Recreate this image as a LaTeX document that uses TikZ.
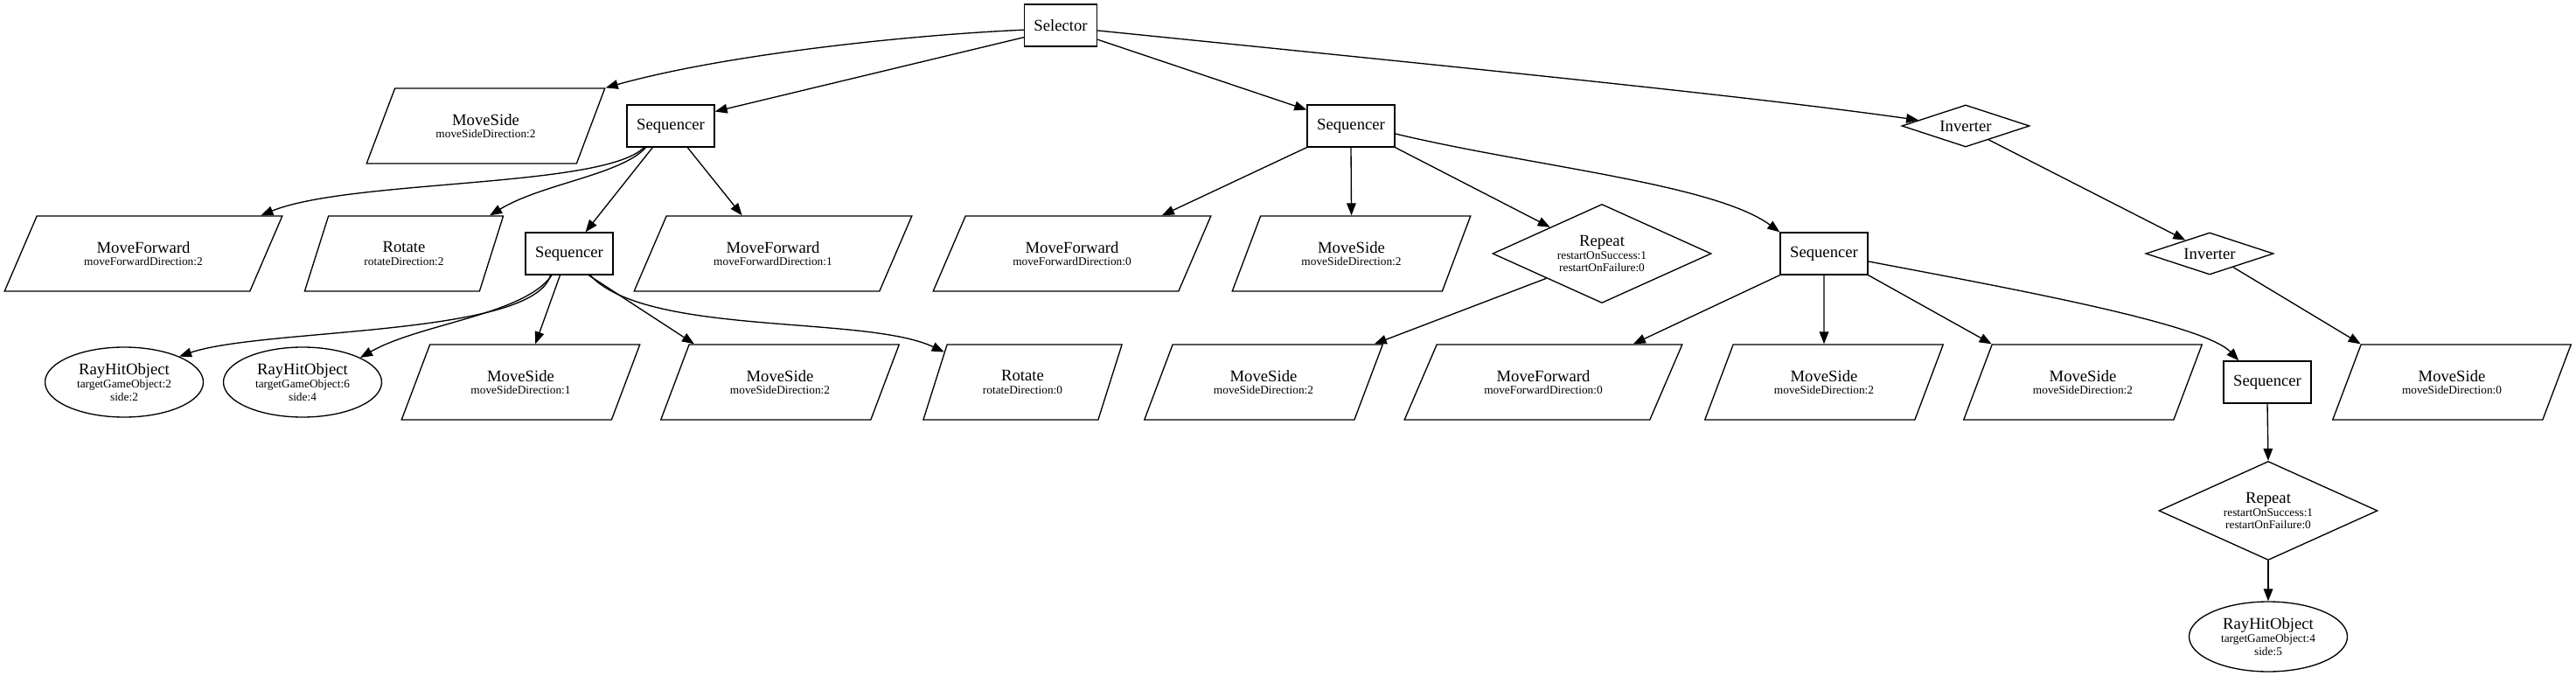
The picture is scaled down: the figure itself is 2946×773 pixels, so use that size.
\documentclass[tikz,border=0pt]{standalone}
\usepackage{fontspec}
\setmainfont{Liberation Serif}
\usetikzlibrary{shapes.geometric,arrows.meta}
\newcommand{\twol}[2]{#1\\{\fontsize{10}{10}\selectfont #2}}
\newcommand{\threel}[3]{#1\\{\fontsize{10}{10}\selectfont #2}\\{\fontsize{10}{10}\selectfont #3}}
\begin{document}
\begin{tikzpicture}[x=0.75pt,y=-0.75pt,
  every node/.style={font=\fontsize{14}{11}\selectfont, align=center, line width=1pt, inner sep=0pt},
  box/.style={draw, rectangle, minimum width=75pt, minimum height=36pt},
  selbox/.style={box, minimum width=62.25pt},
  parS/.style={draw, trapezium, trapezium left angle=57.4, trapezium right angle=122.6, trapezium stretches=true, minimum width=204.75pt, minimum height=64.5pt},
  parL/.style={draw, trapezium, trapezium left angle=53.5, trapezium right angle=126.5, trapezium stretches=true, minimum width=238.5pt, minimum height=64.5pt},
  parR/.style={draw, trapezium, trapezium left angle=62.1, trapezium right angle=117.9, trapezium stretches=true, minimum width=171pt, minimum height=64.5pt},
  rep/.style={draw, diamond, minimum width=187.5pt, minimum height=84.75pt, aspect=2.2},
  inv/.style={draw, diamond, minimum width=109.5pt, minimum height=36pt, aspect=3},
  rho/.style={draw, ellipse, minimum width=135.75pt, minimum height=60pt},
  conn/.style={draw, line width=1pt, -{Triangle[length=10.5pt,width=8pt]}}
]
\useasboundingbox (0,0) rectangle (2946,773);
\node[selbox] (sel) at (1213,29) {Selector};
\node[parS] (ms1) at (555.5,144) {\twol{MoveSide}{moveSideDirection:2}};
\node[box] (seq1) at (767,144) {Sequencer};
\node[box] (seq2) at (1545,144) {Sequencer};
\node[inv] (inv1) at (2248,144) {Inverter};
\node[parL] (mf2) at (164,290) {\twol{MoveForward}{moveForwardDirection:2}};
\node[parR] (rot2) at (462,290) {\twol{Rotate}{rotateDirection:2}};
\node[box] (seq3) at (651,290) {Sequencer};
\node[parL] (mf1) at (884,290) {\twol{MoveForward}{moveForwardDirection:1}};
\node[parL] (mf0) at (1226,290) {\twol{MoveForward}{moveForwardDirection:0}};
\node[parS] (ms2) at (1545.5,290) {\twol{MoveSide}{moveSideDirection:2}};
\node[rep] (rep1) at (1832,290) {\threel{Repeat}{restartOnSuccess:1}{restartOnFailure:0}};
\node[box] (seq4) at (2086,290) {Sequencer};
\node[inv] (inv2) at (2527,290) {Inverter};
\node[rho] (rh1) at (142,437) {\threel{RayHitObject}{targetGameObject:2}{side:2}};
\node[rho] (rh2) at (346,437) {\threel{RayHitObject}{targetGameObject:6}{side:4}};
\node[parS] (ms31) at (595.5,437) {\twol{MoveSide}{moveSideDirection:1}};
\node[parS] (ms32) at (892,437) {\twol{MoveSide}{moveSideDirection:2}};
\node[parR] (rot0) at (1169.5,437) {\twol{Rotate}{rotateDirection:0}};
\node[parS] (ms33) at (1445,437) {\twol{MoveSide}{moveSideDirection:2}};
\node[parL] (mf03) at (1765,437) {\twol{MoveForward}{moveForwardDirection:0}};
\node[parS] (ms34) at (2086,437) {\twol{MoveSide}{moveSideDirection:2}};
\node[parS] (ms35) at (2382,437) {\twol{MoveSide}{moveSideDirection:2}};
\node[box] (seq5) at (2593,437) {Sequencer};
\node[parS] (ms36) at (2804,437) {\twol{MoveSide}{moveSideDirection:0}};
\node[rep] (rep2) at (2594,584) {\threel{Repeat}{restartOnSuccess:1}{restartOnFailure:0}};
\node[rho] (rh3) at (2594,728) {\threel{RayHitObject}{targetGameObject:4}{side:5}};

\draw[conn] (sel.187) .. controls (1040,40) and (830,62) .. (ms1.top right corner);
\draw[conn] (sel.198) -- (seq1.18);
\draw[conn] (sel.339) -- (seq2.160);
\draw[conn] (sel.352) .. controls (1700,80) and (2000,110) .. (inv1.173);
\draw[conn] (seq1.219) .. controls (690,215) and (400,205) .. (mf2.18);
\draw[conn] (seq1.221) .. controls (710,200) and (620,210) .. (rot2.24);
\draw[conn] (seq1.230) -- (seq3.53);
\draw[conn] (seq1.308) -- (mf1.129);
\draw[conn] (seq3.229) .. controls (610,385) and (300,375) .. (rh1.25);
\draw[conn] (seq3.231) .. controls (600,360) and (480,370) .. (rh2.23);
\draw[conn] (seq3.247) -- (ms31.69);
\draw[conn] (seq3.312) -- (ms32.156);
\draw[conn] (seq3.314) .. controls (740,385) and (990,360) .. (rot0.159);
\draw[conn] (seq2.south west) -- (mf0.23);
\draw[conn] (seq2.south) -- (ms2.north);
\draw[conn] (seq2.south east) -- (rep1.153);
\draw[conn] (seq2.350) .. controls (1750,190) and (1960,210) .. (seq4.north west);
\draw[conn] (rep1.204) -- (ms33.19);
\draw[conn] (seq4.south west) -- (mf03.23);
\draw[conn] (seq4.south) -- (ms34.north);
\draw[conn] (seq4.south east) -- (ms35.top left corner);
\draw[conn] (seq4.350) .. controls (2300,330) and (2520,370) .. (seq5.143);
\draw[conn] (inv1.329) -- (inv2.151);
\draw[conn] (inv2.330) -- (ms36.top left corner);
\draw[conn] (seq5.south) -- (rep2.north);
\draw[conn] (rep2.south) -- (rh3.north);
\end{tikzpicture}
\end{document}
